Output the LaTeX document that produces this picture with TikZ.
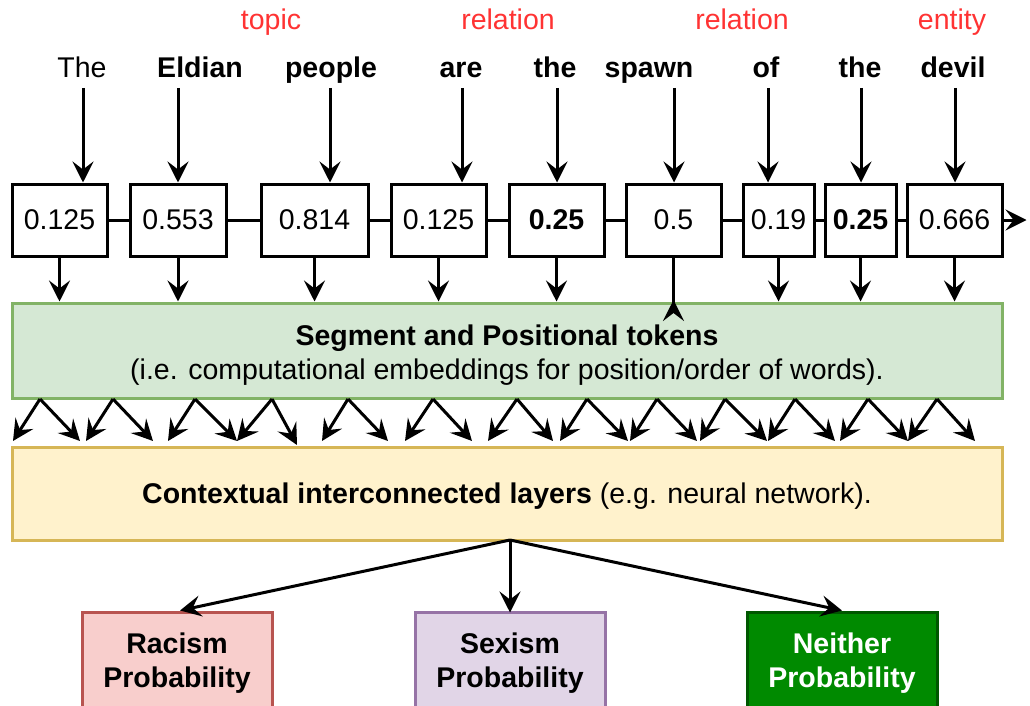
\documentclass[tikz,border=0pt]{standalone}
\usepackage{fontspec}
\setmainfont{Liberation Sans}
\usetikzlibrary{arrows.meta}
\definecolor{tagred}{HTML}{FF3333}
\definecolor{segfill}{HTML}{D5E8D4}
\definecolor{segline}{HTML}{82B366}
\definecolor{layfill}{HTML}{FFF2CC}
\definecolor{layline}{HTML}{D6B656}
\definecolor{racfill}{HTML}{F8CECC}
\definecolor{racline}{HTML}{B85450}
\definecolor{sexfill}{HTML}{E1D5E7}
\definecolor{sexline}{HTML}{9673A6}
\definecolor{neifill}{HTML}{008A00}
\definecolor{neiline}{HTML}{005700}
\newcommand{\bigtext}{\fontsize{28.5}{34}\selectfont}
\begin{document}
\begin{tikzpicture}[x=1pt,y=-1pt,
  txt/.style={font=\bigtext, inner sep=0pt},
  tag/.style={txt, text=tagred, anchor=base},
  word/.style={txt, anchor=base, font=\bigtext\bfseries},
  valbox/.style={draw, line width=3pt, minimum height=72pt, inner sep=0pt, font=\bigtext},
  layer/.style={draw, line width=3pt, minimum width=990pt},
  outbox/.style={draw, line width=3pt, minimum width=190pt, minimum height=96pt},
  outtext/.style={txt, align=center, font=\fontsize{28.5}{34}\selectfont\bfseries},
  link/.style={line width=3pt},
  arr/.style={line width=3pt, -{Stealth[length=21pt,width=21pt,inset=8pt]}},
  revarr/.style={line width=3pt, -{Stealth[length=21pt,width=21pt,inset=8pt,reversed]}},
]
\useasboundingbox (0,0) rectangle (1030,706);

% annotation tags
\node[tag] (g1) at (271,30) {topic};
\node[tag] (g2) at (508,30) {relation};
\node[tag] (g3) at (742,30) {relation};
\node[tag] (g4) at (952,30) {entity};

% sentence words
\node[word, font=\bigtext] (w1) at (82,78) {The};
\node[word] (w2) at (200,78) {Eldian};
\node[word] (w3) at (331,78) {people};
\node[word] (w4) at (461,78) {are};
\node[word] (w5) at (555,78) {the};
\node[word] (w6) at (649,78) {spawn};
\node[word] (w7) at (766,78) {of};
\node[word] (w8) at (860,78) {the};
\node[word] (w9) at (953,78) {devil};

% token values
\node[valbox, minimum width=95pt] (v1) at (59.5,220) {0.125};
\node[valbox, minimum width=96pt] (v2) at (178,220) {0.553};
\node[valbox, minimum width=107pt] (v3) at (314.5,220) {0.814};
\node[valbox, minimum width=95pt] (v4) at (438.5,220) {0.125};
\node[valbox, minimum width=95pt, font=\bigtext\bfseries] (v5) at (556.5,220) {0.25};
\node[valbox, minimum width=95pt] (v6) at (673.5,220) {0.5};
\node[valbox, minimum width=71pt] (v7) at (778.5,220) {0.19};
\node[valbox, minimum width=71pt, font=\bigtext\bfseries] (v8) at (860.5,220) {0.25};
\node[valbox, minimum width=95pt] (v9) at (954.5,220) {0.666};

% chain between values
\foreach \a/\b in {v1/v2,v2/v3,v3/v4,v4/v5,v5/v6,v6/v7,v7/v8,v8/v9}
  \draw[link] (\a) -- (\b);
\draw[arr] (v9.east) -- ++(23,0);

% words into values
\foreach \i/\x in {1/83,2/178,3/330,4/462,5/557,6/674,7/768,8/861,9/955} {
  \coordinate (s\i) at (\x,88);
  \draw[arr] (s\i) -- (s\i |- v\i.north);
}

% embedding layer
\node[layer, fill=segfill, draw=segline, minimum height=95pt] (seg) at (507,350.5) {};
\node[txt, align=center] (segtext) at (507,355)
  {\textbf{Segment and Positional tokens}\\(i.e. computational embeddings for position/order of words).};

% values into embedding layer
\foreach \i in {1,2,3,4,5,7,8,9}
  \draw[arr] (v\i.south) -- (v\i.south |- seg.north);
\coordinate (sp) at (673.5,321);
\draw[revarr] (v6.south) -- (sp);

% contextual layer
\node[layer, fill=layfill, draw=layline, minimum height=93pt] (lay) at (507,493.5) {};
\node[txt] (laytext) at (507,496.5)
  {\textbf{Contextual interconnected layers} (e.g. neural network).};

% fan-out between the two layers
\foreach \s/\l/\r/\ry in {40/13/80/441,113/86/153/441,195/168/237/441,272/237/297/445,
    348/322/388/441,433/405/472/441,517/488/553/441,587/560/628/441,657/630/697/441,
    725/700/767/441,795/768/835/441,868/840/908/441,937/908/975/441} {
  \coordinate (z\s) at (\s,399);
  \draw[arr] (z\s) -- (\l,441);
  \draw[arr] (z\s) -- (\r,\ry);
}

% outputs
\node[outbox, fill=racfill, draw=racline] (rac) at (177,660) {};
\node[outbox, fill=sexfill, draw=sexline] (sex) at (510,660) {};
\node[outbox, fill=neifill, draw=neiline] (nei) at (842,660) {};
\node[outtext] (ract) at (177,663) {Racism\\Probability};
\node[outtext] (sext) at (510,663) {Sexism\\Probability};
\node[outtext, text=white] (neit) at (842,663) {Neither\\Probability};

\coordinate (lb) at (510,540);
\draw[arr] (lb) -- ([xshift=3pt]rac.north);
\draw[arr] (lb) -- ([yshift=-2pt]sex.north);
\draw[arr] (lb) -- (nei.north);
\end{tikzpicture}
\end{document}
